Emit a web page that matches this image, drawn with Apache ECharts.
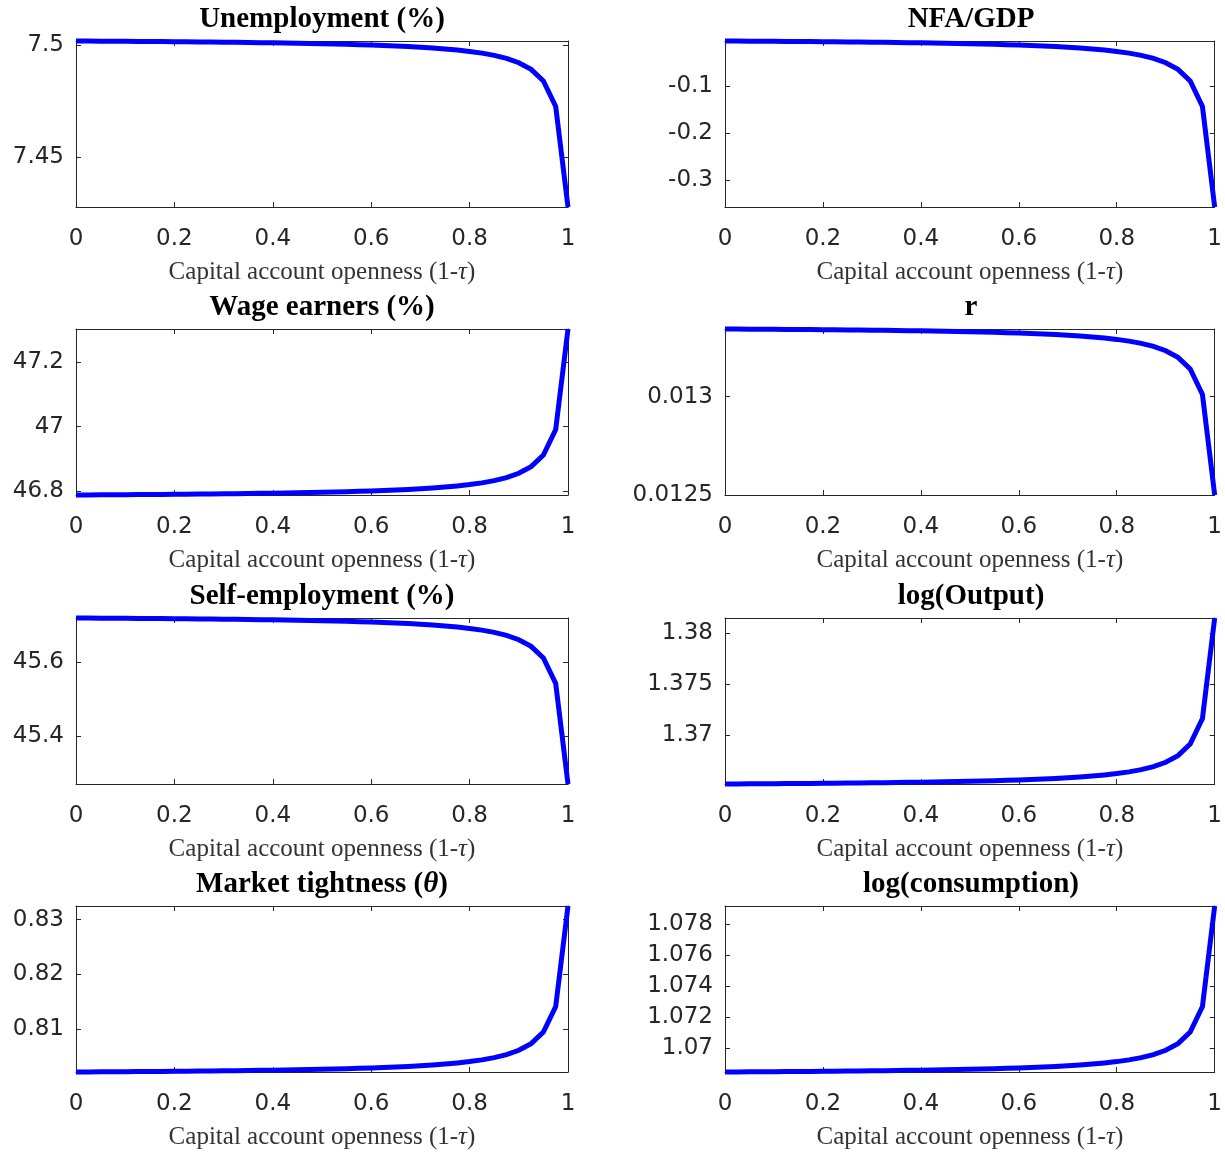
<!DOCTYPE html>
<html><head><meta charset="utf-8">
<script src="https://cdn.jsdelivr.net/npm/echarts@6/dist/echarts.min.js"></script>
<style>html,body{margin:0;padding:0;background:#fff}#c{width:1225px;height:1156px}</style>
</head><body><div id="c"></div>
<script>
const xVals = [0,0.025,0.05,0.075,0.1,0.125,0.15,0.175,0.2,0.225,0.25,0.275,0.3,0.325,0.35,0.375,0.4,0.425,0.45,0.475,0.5,0.525,0.55,0.575,0.6,0.625,0.65,0.675,0.7,0.725,0.75,0.775,0.8,0.825,0.85,0.875,0.9,0.925,0.95,0.975,1];
const xTicks = [0,0.2,0.4,0.6,0.8,1];

const unemployment = [7.5017,7.50167,7.50163,7.5016,7.50156,7.50152,7.50148,7.50144,7.50139,7.50134,7.50129,7.50123,7.50117,7.50111,7.50104,7.50097,7.50088,7.5008,7.5007,7.5006,7.50048,7.50036,7.50022,7.50006,7.49989,7.4997,7.49947,7.49922,7.49892,7.49858,7.49817,7.49767,7.49706,7.49629,7.4953,7.49395,7.49202,7.48905,7.48386,7.4725,7.4277];
const unemploymentTicks = [7.45,7.5];

const nfaGdp = [-0.0043,-0.00445,-0.00461,-0.00478,-0.00495,-0.00514,-0.00534,-0.00555,-0.00577,-0.006,-0.00625,-0.00652,-0.00681,-0.00711,-0.00745,-0.0078,-0.00819,-0.0086,-0.00906,-0.00956,-0.0101,-0.0107,-0.01136,-0.0121,-0.01293,-0.01386,-0.01492,-0.01613,-0.01754,-0.01919,-0.02114,-0.0235,-0.0264,-0.03007,-0.03482,-0.04125,-0.05042,-0.06458,-0.08932,-0.14349,-0.357];
const nfaTicks = [-0.3,-0.2,-0.1];

const wageEarners = [46.788,46.78822,46.78845,46.78869,46.78895,46.78922,46.78951,46.78981,46.79014,46.79048,46.79085,46.79124,46.79165,46.7921,46.79259,46.7931,46.79366,46.79427,46.79493,46.79566,46.79645,46.79732,46.79829,46.79936,46.80057,46.80193,46.80348,46.80524,46.8073,46.8097,46.81254,46.81598,46.82021,46.82555,46.83248,46.84184,46.85522,46.87585,46.9119,46.99085,47.302];
const wageTicks = [46.8,47,47.2];

const rate = [0.013343,0.0133426,0.0133423,0.0133419,0.0133414,0.013341,0.0133405,0.01334,0.0133395,0.0133389,0.0133383,0.0133377,0.013337,0.0133363,0.0133355,0.0133346,0.0133337,0.0133327,0.0133316,0.0133304,0.0133291,0.0133277,0.0133261,0.0133244,0.0133224,0.0133202,0.0133176,0.0133147,0.0133114,0.0133074,0.0133028,0.0132971,0.0132902,0.0132814,0.0132701,0.0132547,0.0132328,0.0131989,0.0131398,0.0130103,0.0125];
const rateTicks = [0.0125,0.013];

const selfEmployment = [45.72,45.71981,45.7196,45.71939,45.71917,45.71893,45.71868,45.71842,45.71813,45.71783,45.71751,45.71717,45.71681,45.71642,45.716,45.71554,45.71505,45.71452,45.71394,45.71331,45.71262,45.71186,45.71101,45.71007,45.70902,45.70783,45.70648,45.70494,45.70315,45.70105,45.69856,45.69556,45.69186,45.6872,45.68115,45.67297,45.66128,45.64326,45.61177,45.5428,45.271];
const selfTicks = [45.4,45.6];

const logOutput = [1.3652,1.365207,1.365214,1.365222,1.36523,1.365239,1.365248,1.365258,1.365268,1.365279,1.36529,1.365303,1.365316,1.36533,1.365345,1.365362,1.36538,1.365399,1.36542,1.365443,1.365468,1.365496,1.365526,1.36556,1.365599,1.365642,1.365691,1.365747,1.365812,1.365888,1.365978,1.366087,1.366222,1.366391,1.36661,1.366907,1.367332,1.367986,1.369129,1.371633,1.3815];
const outputTicks = [1.37,1.375,1.38];

const tightness = [0.8022,0.802213,0.802227,0.802241,0.802256,0.802272,0.802289,0.802307,0.802326,0.802346,0.802368,0.802391,0.802415,0.802442,0.80247,0.802501,0.802534,0.80257,0.802609,0.802652,0.802698,0.80275,0.802807,0.80287,0.802941,0.803021,0.803112,0.803217,0.803338,0.803479,0.803647,0.80385,0.804099,0.804413,0.804822,0.805374,0.806162,0.807379,0.809504,0.814158,0.8325];
const tightnessTicks = [0.81,0.82,0.83];

const logConsumption = [1.06845,1.068455,1.068459,1.068465,1.06847,1.068476,1.068482,1.068488,1.068495,1.068502,1.068509,1.068518,1.068526,1.068536,1.068546,1.068557,1.068568,1.068581,1.068595,1.06861,1.068626,1.068645,1.068665,1.068687,1.068713,1.068741,1.068773,1.06881,1.068853,1.068903,1.068962,1.069034,1.069122,1.069234,1.069379,1.069574,1.069853,1.070284,1.071037,1.072685,1.07918];
const consumptionTicks = [1.07,1.072,1.074,1.076,1.078];

const titles = ['{n|Unemployment (%)}','{n|NFA/GDP}','{n|Wage earners (%)}','{n|r}','{n|Self-employment (%)}','{n|log(Output)}','{n|Market tightness (}{i|θ}{n|)}','{n|log(consumption)}'];
const xAxisTitle = '{a|Capital account openness (1-}{b|τ}{a|)}';

const panels = [
  [unemployment, unemploymentTicks], [nfaGdp, nfaTicks],
  [wageEarners, wageTicks], [rate, rateTicks],
  [selfEmployment, selfTicks], [logOutput, outputTicks],
  [tightness, tightnessTicks], [logConsumption, consumptionTicks]
];

const AX = '#262626';
const TICKFONT = 'DejaVu Sans';
const SERIF = 'Liberation Serif';
const lefts = [76, 725], tops = [41, 329, 618, 906];
const W = 492, H = 166;

const grid = [], xAxis = [], yAxis = [], series = [], title = [];
panels.forEach(([data, ticks], i) => {
  const col = i % 2, row = Math.floor(i / 2);
  const mn = Math.min(...data), mx = Math.max(...data);
  grid.push({left: lefts[col], top: tops[row], width: W, height: H, containLabel: false});
  const line = {show: true, onZero: false, lineStyle: {color: AX, width: 1}};
  const tick = (vals) => ({show: true, inside: true, length: 5, customValues: vals, lineStyle: {color: AX, width: 1}});
  xAxis.push({
    gridIndex: i, type: 'value', min: 0, max: 1, position: 'bottom',
    axisLine: line, axisTick: tick(xTicks), splitLine: {show: false},
    axisLabel: {customValues: xTicks, margin: 21, fontFamily: TICKFONT, fontSize: 23, color: AX},
    name: xAxisTitle, nameLocation: 'middle', nameGap: 53,
    nameTextStyle: {rich: {
      a: {fontFamily: SERIF, fontSize: 25, color: '#333'},
      b: {fontFamily: SERIF, fontSize: 25, color: '#333', fontStyle: 'italic'}
    }}
  });
  xAxis.push({
    gridIndex: i, type: 'value', min: 0, max: 1, position: 'top',
    axisLine: line, axisTick: tick(xTicks), splitLine: {show: false}, axisLabel: {show: false}
  });
  yAxis.push({
    gridIndex: i, type: 'value', min: mn, max: mx, position: 'left',
    axisLine: line, axisTick: tick(ticks), splitLine: {show: false},
    axisLabel: {customValues: ticks, margin: 12, fontFamily: TICKFONT, fontSize: 23, color: AX}
  });
  yAxis.push({
    gridIndex: i, type: 'value', min: mn, max: mx, position: 'right',
    axisLine: line, axisTick: tick(ticks), splitLine: {show: false}, axisLabel: {show: false}
  });
  series.push({
    type: 'line', xAxisIndex: 2 * i, yAxisIndex: 2 * i,
    data: xVals.map((x, k) => [x, data[k]]),
    showSymbol: false, symbol: 'none', clip: false,
    lineStyle: {color: '#0000ff', width: 5, join: 'miter'}
  });
  title.push({
    text: titles[i], left: lefts[col] + W / 2, top: tops[row] - 36, textAlign: 'center', padding: 0,
    textStyle: {rich: {
      n: {fontFamily: SERIF, fontWeight: 'bold', fontSize: 29, color: '#000'},
      i: {fontFamily: SERIF, fontWeight: 'bold', fontStyle: 'italic', fontSize: 29, color: '#000'}
    }}
  });
});

const chart = echarts.init(document.getElementById('c'), null, {renderer: 'canvas'});
chart.setOption({animation: false, backgroundColor: '#fff', title, grid, xAxis, yAxis, series});
</script>
</body></html>
